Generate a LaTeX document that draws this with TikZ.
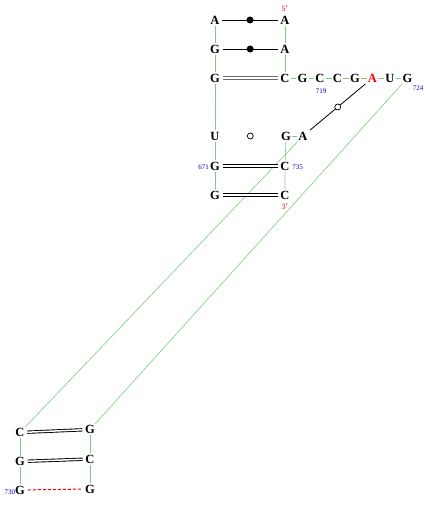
\documentclass[tikz,border=0pt]{standalone}
\usepackage{fontspec}
\setmainfont{Liberation Serif}
\definecolor{bb}{RGB}{130,200,130}
\definecolor{lblue}{RGB}{0,0,200}
\definecolor{lred}{RGB}{240,0,0}
\begin{document}
\begin{tikzpicture}[x=1pt,y=-1pt,
  nt/.style={font=\bfseries\fontsize{12.5}{12.5}\selectfont, inner sep=1.2pt, minimum width=9pt, minimum height=9pt},
  ntred/.style={nt, text=lred},
  lab/.style={font=\fontsize{7}{7}\selectfont, text=lblue, inner sep=0pt},
  prime/.style={font=\fontsize{8}{8}\selectfont, text=lred, inner sep=0pt},
  bk/.style={draw=bb, line width=0.6pt},
  wc/.style={draw, double, double distance=1.5pt, line width=0.9pt, shorten <=1.5pt, shorten >=1.5pt},
  wcgray/.style={draw=gray!85!black, double, double distance=1.4pt, line width=1.1pt, shorten <=1.5pt, shorten >=1.5pt},
  single/.style={draw, line width=0.8pt, shorten <=1.5pt, shorten >=1.5pt},
  fdot/.style={circle, fill, inner sep=0pt, minimum size=7pt},
  odot/.style={circle, draw, fill=white, line width=0.7pt, inner sep=0pt, minimum size=6pt}]
\useasboundingbox (0,0) rectangle (428,511);
% left strand
\node[nt] (l1) at (215,20) {A};
\node[nt] (l2) at (215,49) {G};
\node[nt] (l3) at (215,78) {G};
\node[nt] (l4) at (215,136) {U};
\node[nt] (l5) at (215,166) {G};
\node[nt] (l6) at (215,195) {G};
% right strand top
\node[nt] (a1) at (285,20) {A};
\node[nt] (a2) at (285,49) {A};
\node[nt] (s1) at (285,78) {C};
\node[nt] (s2) at (302.5,78) {G};
\node[nt] (s3) at (320,78) {C};
\node[nt] (s4) at (337.5,78) {C};
\node[nt] (s5) at (355,78) {G};
\node[ntred] (s6) at (372.5,78) {A};
\node[nt] (s7) at (390,78) {U};
\node[nt] (s8) at (407.5,78) {G};
% right strand lower
\node[nt] (r1) at (286,136) {G};
\node[nt] (r2) at (303,136) {A};
\node[nt] (r3) at (285,166) {C};
\node[nt] (r4) at (285,195) {C};
% bottom hairpin
\node[nt] (b1) at (20,432.5) {C};
\node[nt] (b2) at (90,429.5) {G};
\node[nt] (b3) at (20,461.5) {G};
\node[nt] (b4) at (90,459) {C};
\node[nt] (b5) at (20,490) {G};
\node[nt] (b6) at (90,489) {G};
% labels
\node[prime] (p5) at (285,8.5) {5$'$};
\node[prime] (p3) at (285,206.5) {3$'$};
\node[lab] (n719) at (321,91) {719};
\node[lab] (n724) at (418,88) {724};
\node[lab] (n671) at (203.5,167) {671};
\node[lab] (n735) at (297.5,167) {735};
\node[lab] (n730) at (10,492) {730};
% backbone
\draw[bk] (l1) -- (l2) -- (l3) -- (l4) -- (l5) -- (l6);
\draw[bk] (a1) -- (a2) -- (s1) -- (s2) -- (s3) -- (s4) -- (s5) -- (s6) -- (s7) -- (s8);
\draw[bk] (s8) -- (b2);
\draw[bk] (b2) -- (b4) -- (b6);
\draw[bk] (b5) -- (b3) -- (b1);
\draw[bk] (b1) -- (r2);
\draw[bk] (r1) -- (r2);
\draw[bk] (r1) -- (r3) -- (r4);
% base pairs
\draw[single] (l1) -- node[fdot]{} (a1);
\draw[single] (l2) -- node[fdot]{} (a2);
\draw[wcgray] (l3) -- (s1);
\path (l4) -- node[odot]{} (r1);
\draw[single] (r2) -- node[odot]{} (s6);
\draw[wc] (l5) -- (r3);
\draw[wc] (l6) -- (r4);
\draw[wc] (b1) -- (b2);
\draw[wc] (b3) -- (b4);
\draw[draw=lred, line width=1pt, dash pattern=on 3pt off 2pt, shorten <=1.5pt, shorten >=1.5pt] (b5) -- (b6);
\end{tikzpicture}
\end{document}
